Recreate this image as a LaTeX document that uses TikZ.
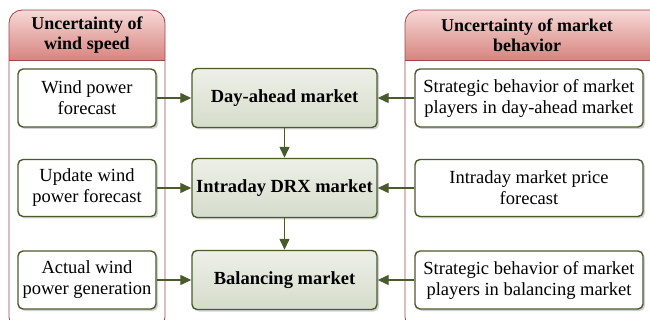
\documentclass[tikz,border=0pt]{standalone}
\usepackage{fontspec}
\setmainfont{Liberation Serif}
\usetikzlibrary{arrows.meta,shadows}

\definecolor{olive}{HTML}{4B5A2C}
\definecolor{frame}{HTML}{A04545}
\definecolor{headtop}{HTML}{F6D9D7}
\definecolor{headbot}{HTML}{D7847F}
\definecolor{mkttop}{HTML}{EEF0E8}
\definecolor{mktbot}{HTML}{D5DCCB}

\tikzset{
  inbox/.style={draw=olive, line width=1.4pt, rounded corners=5pt, fill=white,
    align=center, inner sep=0pt, font=\fontsize{18.5}{21}\selectfont,
    drop shadow={shadow xshift=2pt, shadow yshift=-2pt, fill=black!35}},
  mktbox/.style={draw=olive, line width=1.4pt, rounded corners=5pt,
    top color=mkttop, bottom color=mktbot, align=center, inner sep=0pt,
    minimum width=185pt, minimum height=59pt,
    font=\bfseries\fontsize{18.5}{21}\selectfont,
    drop shadow={shadow xshift=2pt, shadow yshift=-2pt, fill=black!35}},
  headtxt/.style={align=center, font=\bfseries\fontsize{18}{20}\selectfont},
  arr/.style={draw=olive, line width=1.3pt, -{Triangle[length=11pt,width=10pt]}}
}

\begin{document}
\begin{tikzpicture}[x=1pt,y=-1pt]
  \useasboundingbox (0,0) rectangle (650,320);
  % Left group
  \begin{scope}
    \clip[rounded corners=13pt] (9,10) rectangle (165,330);
    \shade[top color=headtop, bottom color=headbot] (9,10) rectangle (165,60);
  \end{scope}
  \draw[frame, line width=0.8pt, rounded corners=13pt] (9,10) rectangle (165,330);
  \draw[frame, line width=0.6pt] (9,60) -- (165,60);
  \node[headtxt] (lhead) at (87,35) {Uncertainty of\\wind speed};
  % Right group
  \begin{scope}
    \clip[rounded corners=13pt] (405,10) rectangle (670,330);
    \shade[top color=headtop, bottom color=headbot] (405,10) rectangle (670,60);
  \end{scope}
  \draw[frame, line width=0.8pt, rounded corners=13pt] (405,10) rectangle (670,330);
  \draw[frame, line width=0.6pt] (405,60) -- (670,60);
  \node[headtxt] (rhead) at (527,35) {Uncertainty of market\\behavior};
  % Markets
  \node[mktbox] (day) at (284.5,98) {Day-ahead market};
  \node[mktbox] (intra) at (284.5,188) {Intraday DRX market};
  \node[mktbox] (bal) at (284.5,280) {Balancing market};
  % Wind side
  \node[inbox, minimum width=138pt, minimum height=58pt] (wf) at (87,98) {Wind power\\forecast};
  \node[inbox, minimum width=138pt, minimum height=57pt] (uwf) at (87,188) {Update wind\\power forecast};
  \node[inbox, minimum width=138pt, minimum height=58pt] (awg) at (87,280) {Actual wind\\power generation};
  % Market behavior side
  \node[inbox, minimum width=228pt, minimum height=58pt] (sd) at (529,98) {Strategic behavior of market\\players in day-ahead market};
  \node[inbox, minimum width=228pt, minimum height=57pt] (ip) at (529,188) {Intraday market price\\forecast};
  \node[inbox, minimum width=228pt, minimum height=58pt] (sb) at (529,280) {Strategic behavior of market\\players in balancing market};
  % Arrows
  \draw[arr] (wf) -- (day);
  \draw[arr] (uwf) -- (intra);
  \draw[arr] (awg) -- (bal);
  \draw[arr] (sd) -- (day);
  \draw[arr] (ip) -- (intra);
  \draw[arr] (sb) -- (bal);
  \draw[arr] (day) -- (intra);
  \draw[arr] (intra) -- (bal);
\end{tikzpicture}
\end{document}
